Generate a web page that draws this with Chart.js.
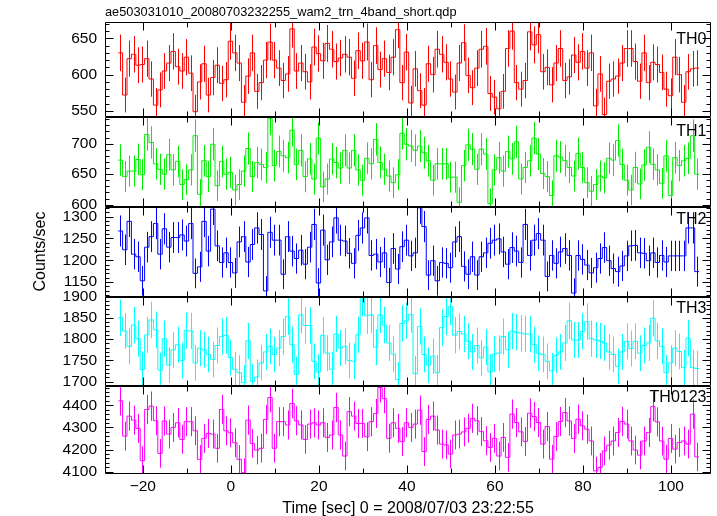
<!DOCTYPE html>
<html><head><meta charset="utf-8">
<script src="https://cdn.jsdelivr.net/npm/chart.js@4.4.1/dist/chart.umd.min.js"></script>
<style>html,body{margin:0;padding:0;background:#fff;}#wrap{width:717px;height:516px;}</style>
</head><body><div id="wrap"><canvas id="c" width="717" height="516"></canvas></div>
<script>
const plotTitle = 'ae503031010_20080703232255_wam2_trn_4band_short.qdp';
const xTitle = 'Time [sec] 0 = 2008/07/03 23:22:55';
const yTitle = 'Counts/sec';
const panelNames = ['TH0', 'TH1', 'TH2', 'TH3', 'TH0123'];
const binStart = -25.6;   // left edge of first 1-s bin
const binWidth = 1.0;

const th0 = [630,572,622,628,613,614,622,594,558,579,
605,616,632,611,605,624,602,549,590,615,
572,596,613,588,593,646,630,616,562,598,
630,577,589,620,645,620,609,592,601,663,
605,616,604,590,638,629,619,643,635,618,
623,628,624,595,633,619,645,593,640,607,
622,603,624,662,589,631,561,608,578,558,
615,600,635,628,617,594,576,616,644,599,
582,609,635,639,574,569,553,577,636,660,
589,580,592,659,641,655,604,610,586,616,
636,592,597,627,617,632,609,630,557,601,
545,591,594,598,616,636,636,618,591,630,
589,617,614,603,580,571,624,600,562,604,
608,609];

const th1 = [673,646,655,655,674,649,715,702,667,658,
650,682,657,671,633,641,657,713,617,672,
646,699,631,671,650,653,624,633,655,692,
646,669,666,661,741,664,687,680,677,722,
666,689,646,675,642,709,629,642,675,669,
660,689,660,689,657,640,676,667,707,669,
658,647,636,649,717,699,696,689,696,685,
672,640,667,667,667,645,645,604,664,698,
691,658,691,683,602,657,677,655,687,675,
703,642,661,672,709,683,651,646,615,680,
678,672,661,647,684,661,636,622,633,647,
644,676,673,705,666,640,624,661,634,665,
694,666,657,635,680,615,677,664,672,676,
713,650];

const th2 = [1267,1224,1289,1214,1208,1153,1230,1254,1284,1214,
1272,1230,1252,1252,1258,1244,1284,1170,1185,1289,
1221,1317,1233,1195,1217,1195,1171,1242,1254,1196,
1236,1274,1259,1130,1264,1246,1246,1168,1254,1221,
1204,1223,1191,1230,1282,1148,1269,1201,1242,1297,
1246,1244,1216,1193,1257,1274,1297,1211,1214,1196,
1217,1149,1227,1180,1231,1246,1210,1217,1320,1277,
1166,1199,1153,1195,1193,1183,1242,1254,1186,1168,
1208,1166,1208,1217,1239,1246,1249,1219,1191,1229,
1221,1195,1282,1211,1246,1261,1246,1163,1211,1193,
1219,1227,1211,1125,1211,1202,1189,1171,1183,1204,
1229,1199,1181,1174,1187,1210,1233,1234,1217,1216,
1199,1217,1195,1211,1196,1210,1210,1210,1210,1274,
1274,1174];

const th3 = [1850,1819,1783,1833,1801,1729,1810,1845,1822,1727,
1801,1739,1775,1787,1750,1820,1819,1744,1779,1775,
1764,1752,1785,1806,1809,1757,1729,1721,1698,1796,
1700,1711,1744,1770,1783,1764,1779,1806,1853,1787,
1717,1857,1832,1832,1748,1723,1809,1767,1729,1812,
1779,1783,1750,1748,1810,1897,1855,1857,1781,1857,
1833,1791,1765,1705,1837,1843,1858,1719,1830,1764,
1739,1760,1721,1827,1853,1876,1809,1818,1812,1795,
1770,1785,1756,1781,1723,1765,1767,1806,1775,1819,
1816,1814,1812,1812,1787,1767,1764,1748,1726,1762,
1770,1791,1843,1798,1798,1818,1841,1801,1798,1796,
1791,1770,1764,1736,1770,1795,1778,1795,1767,1785,
1791,1849,1796,1783,1721,1744,1779,1771,1733,1802,
1733,1731];

const th0123 = [4420,4261,4351,4333,4296,4150,4381,4396,4330,
4183,4329,4270,4300,4321,4246,4326,4326,4285,4156,4251,4273,4270,4206,4381,4285,4276,4231,4156,4096,4333,4228,4198,4206,4336,4435,4206,4326,4326,4311,4408,
4330,
4311,4246,4315,4321,4311,4321,4255,4266,4390,4266,4171,4371,4351,4318,4318,4258,4326,4363,4480,4430,4251,4321,4296,4236,4321,
4300,
4315,4378,4191,4336,4351,4288,4225,4221,4180,4266,4270,
4280,
4296,4341,4330,4281,4240,4210,4251,4171,
4255,4165,4360,4322,4280,4237,4364,4349,4322,4225,4304,4157,4259,4327,4367,4329,4250,4337,4307,4292,4239,4104,4120,4194,4220,4239,4277,4327,4315,4239,4198,4175,4239,4277,4394,4325,4239,4157,4250,4202,4232,4239,4225,4360,4167];

const series = [th0, th1, th2, th3, th0123];
const yMin = [542, 597, 1117, 1690, 4090];
const yMax = [672, 744, 1323, 1900, 4487];
const yTicks = [[550, 600, 650], [600, 650, 700], [1150, 1200, 1250, 1300],
                [1700, 1750, 1800, 1850, 1900], [4100, 4200, 4300, 4400]];
const yMinorStep = [10, 10, 10, 10, 20];
const xMin = -28.6, xMax = 109.1;
const xTicks = [-20, 0, 20, 40, 60, 80, 100];
const xMinorStep = 10;

// styles
const colors = ['#ff0000', '#00ee00', '#0000ff', '#00ffff', '#ff00ff'];
const panelWeights = [94.7, 90, 90.3, 89.7, 88.3];
const labelOffsets = [17, 15, 13.5, 12, 11.5];
const FONT = '"Liberation Sans", Arial, Helvetica, sans-serif';

function stepPoints(v) {
  const pts = [{x: binStart, y: v[0]}];
  v.forEach((val, k) => pts.push({x: binStart + (k + 0.5) * binWidth, y: val}));
  pts.push({x: binStart + v.length * binWidth, y: v[v.length - 1]});
  return pts;
}

const datasets = series.map((v, i) => ({
  label: panelNames[i], data: stepPoints(v), yAxisID: 'y' + i,
  borderColor: colors[i], borderWidth: 1, pointRadius: 0,
  stepped: 'middle', fill: false, tension: 0
}));

const scales = {
  x: {
    type: 'linear', position: 'bottom', min: xMin, max: xMax,
    grid: {display: false, drawTicks: false}, border: {display: false},
    afterBuildTicks: s => { s.ticks = xTicks.map(v => ({value: v})); },
    ticks: {autoSkip: false, maxRotation: 0, padding: 3, color: '#000',
      font: {size: 15.5, family: FONT},
      callback: v => (v < 0 ? '\u2212' + Math.abs(v) : String(v))},
    title: {display: true, text: xTitle, color: '#000', font: {size: 16, family: FONT},
      padding: {top: 0, bottom: -2}},
    afterFit: s => { s.height = 42; }
  }
};
for (let i = 4; i >= 0; i--) {
  scales['y' + i] = {
    type: 'linear', position: 'left', stack: 'panels', stackWeight: panelWeights[i],
    min: yMin[i], max: yMax[i],
    grid: {display: false, drawTicks: false}, border: {display: false},
    afterBuildTicks: s => { s.ticks = yTicks[i].map(v => ({value: v})); },
    ticks: {autoSkip: false, padding: 8, color: '#000', font: {size: 15.5, family: FONT},
      callback: v => String(v)},
    title: {display: i === 2, text: yTitle, color: '#000', font: {size: 16, family: FONT},
      padding: {top: 1, bottom: 0}},
    afterFit: s => { s.width = 75; }
  };
}

const qdpPlugin = {
  id: 'qdp',
  afterDatasetsDraw(chart) {
    const ctx = chart.ctx, xs = chart.scales.x;
    const {left, right} = chart.chartArea;
    series.forEach((vals, i) => {
      const ys = chart.scales['y' + i];
      ctx.save();
      ctx.beginPath(); ctx.rect(left, ys.top, right - left, ys.bottom - ys.top); ctx.clip();
      ctx.strokeStyle = colors[i]; ctx.lineWidth = 1;
      ctx.beginPath();
      vals.forEach((v, k) => {
        const e = Math.sqrt(v * binWidth) / binWidth;
        const px = Math.round(xs.getPixelForValue(binStart + (k + 0.5) * binWidth)) + 0.5;
        ctx.moveTo(px, ys.getPixelForValue(v + e));
        ctx.lineTo(px, ys.getPixelForValue(v - e));
      });
      ctx.stroke();
      ctx.restore();
    });
  },
  afterDraw(chart) {
    const ctx = chart.ctx, xs = chart.scales.x;
    const {left, right} = chart.chartArea;
    const L = Math.round(left) + 0.5, R = Math.round(right) - 0.5;
    ctx.save();
    ctx.strokeStyle = '#000'; ctx.lineWidth = 1;
    series.forEach((vals, i) => {
      const ys = chart.scales['y' + i];
      const T = Math.round(ys.top) + 0.5, B = Math.round(ys.bottom) - 0.5;
      ctx.beginPath();
      ctx.rect(L, T, R - L, B - T);
      const minor = yMinorStep[i];
      const major = yTicks[i][1] - yTicks[i][0];
      for (let v = Math.ceil(yMin[i] / minor) * minor; v <= yMax[i]; v += minor) {
        const py = Math.round(ys.getPixelForValue(v)) + 0.5;
        const len = (v % major === 0) ? 8 : 4;
        ctx.moveTo(L, py); ctx.lineTo(L + len, py);
        ctx.moveTo(R, py); ctx.lineTo(R - len, py);
      }
      const xMajor = xTicks[1] - xTicks[0];
      for (let t = Math.ceil(xMin / xMinorStep) * xMinorStep; t <= xMax; t += xMinorStep) {
        const px = Math.round(xs.getPixelForValue(t)) + 0.5;
        const len = (t % xMajor === 0) ? 8 : 5;
        ctx.moveTo(px, T); ctx.lineTo(px, T + len);
        ctx.moveTo(px, B); ctx.lineTo(px, B - len);
      }
      ctx.stroke();
      ctx.fillStyle = '#000';
      ctx.font = '16px ' + FONT;
      ctx.textAlign = 'right'; ctx.textBaseline = 'middle';
      ctx.fillText(panelNames[i], R - 4, ys.top + labelOffsets[i]);
    });
    ctx.restore();
  }
};

new Chart(document.getElementById('c'), {
  type: 'line',
  data: {datasets},
  options: {
    responsive: false, animation: false, devicePixelRatio: 1,
    layout: {padding: {left: 30, right: 6, top: 0, bottom: 0}},
    plugins: {
      legend: {display: false}, tooltip: {enabled: false},
      title: {display: true, text: plotTitle, align: 'start', fullSize: false, color: '#000',
        font: {size: 12.8, family: FONT, weight: 'normal'}, padding: {top: 5, bottom: 2}}
    },
    scales
  },
  plugins: [qdpPlugin]
});
</script></body></html>
